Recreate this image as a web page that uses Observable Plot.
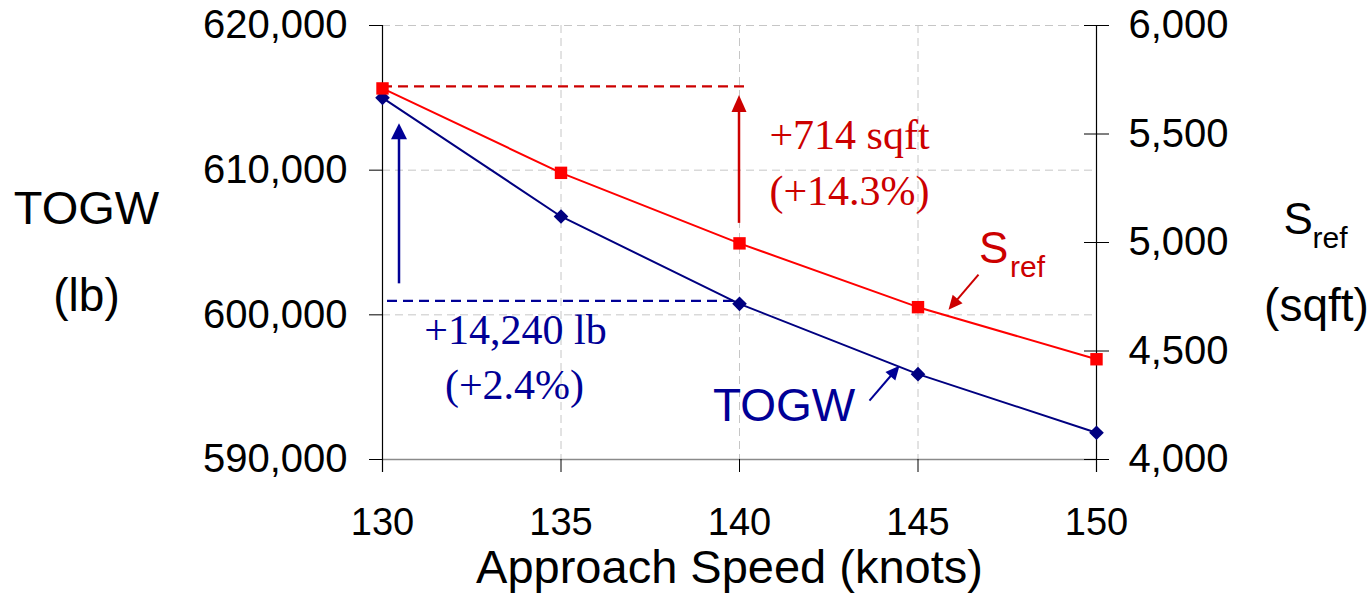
<!DOCTYPE html>
<html><head><meta charset="utf-8">
<script src="https://cdn.jsdelivr.net/npm/d3@7"></script>
<script src="https://cdn.jsdelivr.net/npm/@observablehq/plot@0.6"></script>
<style>html,body{margin:0;padding:0;background:#fff;} #chart svg{display:block}</style>
</head><body><div id="chart"></div>
<script>
// ---- data ----
const speeds = [130, 135, 140, 145, 150];
const togw = [615000, 606800, 600760, 595900, 591850];
const sref = [5710, 5321, 4996, 4702, 4462];
const togwTicks = [590000, 600000, 610000, 620000];
const srefTicks = [4000, 4500, 5000, 5500, 6000];
const speedTicks = [130, 135, 140, 145, 150];
const togwNote = ["+14,240 lb", "(+2.4%)"];
const srefNote = ["+714 sqft", "(+14.3%)"];
const leftTitle = ["TOGW", "(lb)"];
const rightTitle = ["S", "ref", "(sqft)"];
const xTitle = ["Approach Speed (knots)"];
const seriesLabels = ["TOGW", "S", "ref"];

// ---- style ----
const NAVY = "#000080", NAVYT = "#000096", RED = "#ff0000", DRED = "#cc0000", GRID = "#c6c6c6";

// map Sref (right axis) onto TOGW (left axis) scale
const T0 = togwTicks[0], T1 = togwTicks[togwTicks.length - 1];
const S0 = srefTicks[0], S1 = srefTicks[srefTicks.length - 1];
const toT = s => T0 + (s - S0) * (T1 - T0) / (S1 - S0);
const fromT = t => S0 + (t - T0) * (S1 - S0) / (T1 - T0);

const rows = speeds.map((v, i) => ({speed: v, togw: togw[i], sref: sref[i], srefT: toT(sref[i])}));
const fmt = d3.format(",");

// annotation arrows with filled heads, positioned through Plot's scales
function arrows(index, scales) {
  const {x, y} = scales;
  const p = (r, key) => [x(r.speed), y(r[key])];
  const [x140, ys140] = p(rows[2], "srefT");
  const [, ys130] = p(rows[0], "srefT");
  const [x130, yt130] = p(rows[0], "togw");
  const [, yt140] = p(rows[2], "togw");
  const [xs145, ys145] = p(rows[3], "srefT");
  const [xt145, yt145] = p(rows[3], "togw");
  const specs = [
    {a: [x140, ys140 - 20], b: [x140, ys130 + 7], c: DRED, w: 2.5, hl: 17, hw: 7.5},
    {a: [x130 + 17, yt140 - 20], b: [x130 + 17, yt130 + 26], c: NAVYT, w: 2.5, hl: 16, hw: 8},
    {a: [xs145 + 61, ys145 - 32], b: [xs145 + 31, ys145 + 3], c: DRED, w: 2, hl: 14, hw: 6.5},
    {a: [xt145 - 48, yt145 + 27], b: [xt145 - 18, yt145 - 8], c: NAVYT, w: 2, hl: 14, hw: 6.5}
  ];
  const g = d3.create("svg:g");
  for (const s of specs) {
    const [ax, ay] = s.a, [bx, by] = s.b;
    const L = Math.hypot(bx - ax, by - ay), ux = (bx - ax) / L, uy = (by - ay) / L;
    const cx = bx - ux * s.hl, cy = by - uy * s.hl;
    g.append("line").attr("x1", ax).attr("y1", ay).attr("x2", cx + ux).attr("y2", cy + uy)
      .attr("stroke", s.c).attr("stroke-width", s.w);
    g.append("polygon")
      .attr("points", [[bx, by], [cx - uy * s.hw, cy + ux * s.hw], [cx + uy * s.hw, cy - ux * s.hw]].map(q => q.join(",")).join(" "))
      .attr("fill", s.c);
  }
  return g.node();
}

const serif = "'Liberation Serif', 'Times New Roman', serif";

const chart = Plot.plot({
  width: 1372,
  height: 594,
  marginLeft: 382,
  marginRight: 276,
  marginTop: 25,
  marginBottom: 135,
  x: {domain: [speedTicks[0], speedTicks[speedTicks.length - 1]]},
  y: {domain: [T0, T1]},
  style: {fontFamily: "'Liberation Sans', Arial, sans-serif", fontSize: "40px", color: "#000", background: "#fff"},
  marks: [
    Plot.gridY(togwTicks.slice(1), {stroke: GRID, strokeOpacity: 1, strokeDasharray: "8,5"}),
    Plot.gridX(speedTicks.slice(1, -1), {stroke: GRID, strokeOpacity: 1, strokeDasharray: "8,5"}),
    Plot.ruleY([T0], {stroke: "#8a8a8a", strokeWidth: 1.3}),
    Plot.ruleX([speedTicks[0], speedTicks[speedTicks.length - 1]], {y1: T1, y2: T0, insetBottom: -13, stroke: "#000", strokeWidth: 1.2}),
    Plot.ruleY(srefTicks.map(toT), {x1: speedTicks[speedTicks.length - 1], x2: speedTicks[speedTicks.length - 1], insetLeft: -12, stroke: "#000"}),
    Plot.axisY({anchor: "left", ticks: togwTicks, tickSize: 13, tickPadding: 22, tickFormat: fmt, fontSize: 40, label: null}),
    Plot.axisY({anchor: "right", ticks: srefTicks.map(toT), tickSize: 12, tickPadding: 20, tickFormat: t => fmt(Math.round(fromT(t))), fontSize: 40, label: null}),
    Plot.axisX({ticks: speedTicks, tickSize: 13, tickPadding: 36, tickFormat: d => String(d), fontSize: 38, label: null}),
    // axis titles
    Plot.text([leftTitle[0]], {frameAnchor: "top-left", text: d => d, dx: -296, dy: 198, lineAnchor: "bottom", textAnchor: "middle", fontSize: 47}),
    Plot.text([leftTitle[1]], {frameAnchor: "top-left", text: d => d, dx: -296, dy: 285, lineAnchor: "bottom", textAnchor: "middle", fontSize: 46}),
    Plot.text([rightTitle[0]], {frameAnchor: "top-right", text: d => d, dx: 187, dy: 208, lineAnchor: "bottom", textAnchor: "start", fontSize: 44}),
    Plot.text([rightTitle[1]], {frameAnchor: "top-right", text: d => d, dx: 216, dy: 222, lineAnchor: "bottom", textAnchor: "start", fontSize: 30}),
    Plot.text([rightTitle[2]], {frameAnchor: "top-right", text: d => d, dx: 220, dy: 295, lineAnchor: "bottom", textAnchor: "middle", fontSize: 46}),
    Plot.text(xTitle, {frameAnchor: "bottom", text: d => d, dx: -10, dy: 123, lineAnchor: "bottom", textAnchor: "middle", fontSize: 47}),
    // dashed reference lines
    Plot.ruleY([rows[0]], {y: "srefT", x1: speeds[0], x2: speeds[2], insetRight: -6, dy: -2, stroke: DRED, strokeWidth: 2.2, strokeDasharray: "10,6"}),
    Plot.ruleY([rows[2]], {y: "togw", x1: speeds[0], x2: speeds[2], insetLeft: 5, dy: -3, stroke: NAVYT, strokeWidth: 2.2, strokeDasharray: "10,6"}),
    // series
    Plot.line(rows, {x: "speed", y: "togw", stroke: NAVY, strokeWidth: 2}),
    Plot.line(rows, {x: "speed", y: "srefT", stroke: RED, strokeWidth: 2}),
    Plot.dot(rows, {x: "speed", y: "togw", symbol: "diamond2", r: 6.6, fill: NAVY, stroke: "none"}),
    Plot.dot(rows, {x: "speed", y: "srefT", symbol: "square", r: 7, fill: RED, stroke: "none"}),
    // annotations
    Plot.text([rows[2]], {x: "speed", y: "srefT", text: () => srefNote[0], dx: 110, dy: -94, lineAnchor: "bottom", textAnchor: "middle", fontFamily: serif, fontSize: 42, fill: DRED}),
    Plot.text([rows[2]], {x: "speed", y: "srefT", text: () => srefNote[1], dx: 110, dy: -38, lineAnchor: "bottom", textAnchor: "middle", fontFamily: serif, fontSize: 42, fill: DRED}),
    Plot.text([rows[2]], {x: "speed", y: "togw", text: () => togwNote[0], dx: -224, dy: 40, lineAnchor: "bottom", textAnchor: "middle", fontFamily: serif, fontSize: 42, fill: NAVYT}),
    Plot.text([rows[2]], {x: "speed", y: "togw", text: () => togwNote[1], dx: -225, dy: 95, lineAnchor: "bottom", textAnchor: "middle", fontFamily: serif, fontSize: 42, fill: NAVYT}),
    Plot.text([rows[3]], {x: "speed", y: "togw", text: () => seriesLabels[0], dx: -205, dy: 47, lineAnchor: "bottom", textAnchor: "start", fontSize: 46, fill: NAVYT}),
    Plot.text([rows[3]], {x: "speed", y: "srefT", text: () => seriesLabels[1], dx: 61, dy: -44, lineAnchor: "bottom", textAnchor: "start", fontSize: 44, fill: DRED}),
    Plot.text([rows[3]], {x: "speed", y: "srefT", text: () => seriesLabels[2], dx: 92, dy: -30, lineAnchor: "bottom", textAnchor: "start", fontSize: 30, fill: DRED}),
    arrows
  ]
});
document.getElementById("chart").appendChild(chart);
</script>
</body></html>
